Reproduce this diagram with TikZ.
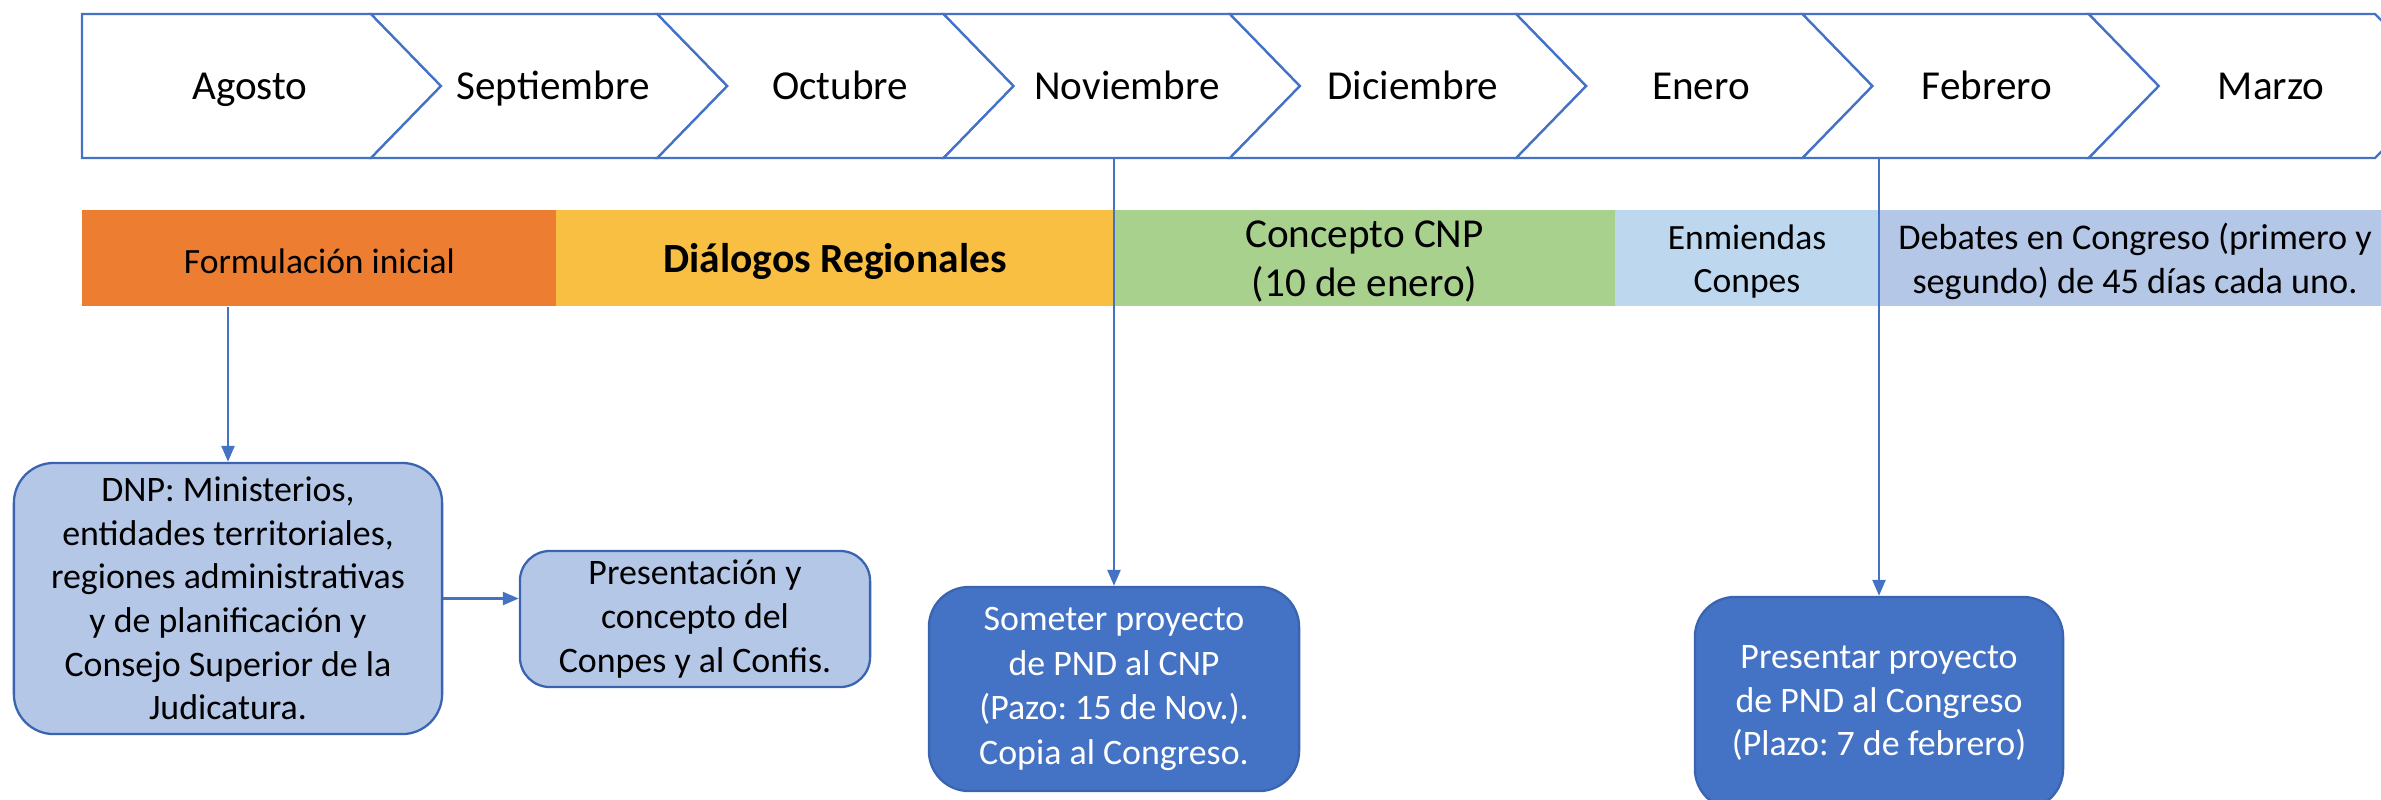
\documentclass[tikz,border=0pt]{standalone}
\usepackage{fontspec}
\setmainfont{Carlito}
\usetikzlibrary{arrows.meta,calc}
\definecolor{cblue}{HTML}{4472C4}
\definecolor{cborder}{HTML}{3A64B0}
\definecolor{corange}{HTML}{ED7D31}
\definecolor{cyellow}{HTML}{F8BF43}
\definecolor{cgreen}{HTML}{A9D18E}
\definecolor{clight}{HTML}{BDD7EE}
\definecolor{cdeb}{HTML}{B4C7E7}
\frenchspacing
\begin{document}
\begin{tikzpicture}[x=0.01cm,y=-0.01cm,
  chev/.style={draw=cblue,line width=0.65pt,fill=white,line join=miter},
  month/.style={font=\fontsize{11.7}{14}\selectfont,anchor=base,inner sep=0pt},
  phase/.style={inner sep=0pt,minimum height=0.96cm},
  ptext/.style={inner sep=0pt,align=center,yshift=-0.035cm},
  lbox/.style={draw=cborder,fill=cdeb,rounded corners=0.4cm,line width=0.65pt,align=center,inner sep=0pt,font=\fontsize{10.2}{12.4}\selectfont},
  dbox/.style={draw=cborder,fill=cblue,text=white,rounded corners=0.4cm,line width=0.65pt,align=center,inner sep=0pt,font=\fontsize{10.2}{12.7}\selectfont},
  arr/.style={draw=cblue,line width=0.7pt,-{Triangle[length=0.16cm,width=0.13cm]}}]
\useasboundingbox (0,0) rectangle (2381,799);
\begin{scope}
\clip (0,0) rectangle (2381,799);
% chevrons
\draw[chev] (82,14) -- (371,14) -- (441,86) -- (371,158) -- (82,158) -- cycle;
\foreach \k in {0,...,6}{
  \pgfmathsetmacro{\n}{371+286.3*\k}
  \draw[chev] (\n,14) -- ({\n+286.3},14) -- ({\n+356.3},86) -- ({\n+286.3},158) -- (\n,158) -- ({\n+70},86) -- cycle;
}
\node[month] (m1) at (250,99) {Agosto};
\node[month] (m2) at (553,99) {Septiembre};
\node[month] (m3) at (840,99) {Octubre};
\node[month] (m4) at (1127,99) {Noviembre};
\node[month] (m5) at (1413,99) {Diciembre};
\node[month] (m6) at (1701,99) {Enero};
\node[month] (m7) at (1987,99) {Febrero};
\node[month] (m8) at (2271,99) {Marzo};
\coordinate (novb) at (1114,158);
\coordinate (febb) at (1879,158);
% phases
\node[phase,fill=corange,minimum width=4.74cm] (p1) at (319.5,258) {};
\node[phase,fill=cyellow,minimum width=5.58cm] (p2) at (835,258) {};
\node[phase,fill=cgreen,minimum width=5.01cm] (p3) at (1364.5,258) {};
\node[phase,fill=clight,minimum width=2.64cm] (p4) at (1747,258) {};
\node[phase,fill=cdeb,minimum width=5.02cm] (p5) at (2130,258) {};
\node[ptext,font=\fontsize{10.1}{12.4}\selectfont] (t1) at (p1.center) {Formulación inicial};
\node[ptext,font=\fontsize{11.8}{14}\selectfont\bfseries] (t2) at (p2.center) {Diálogos Regionales};
\node[ptext,font=\fontsize{11.7}{14.2}\selectfont] (t3) at (p3.center) {Concepto CNP\\(10 de enero)};
\node[ptext,font=\fontsize{10.1}{12.5}\selectfont] (t4) at (p4.center) {Enmiendas\\Conpes};
\node[ptext,font=\fontsize{10.3}{12.7}\selectfont,xshift=0.05cm] (t5) at (p5.center) {Debates en Congreso (primero y\\segundo) de 45 días cada uno.};
% boxes
\node[lbox,minimum width=4.28cm,minimum height=2.71cm] (dnp) at (228,598.5) {DNP: Ministerios,\\entidades territoriales,\\regiones administrativas\\y de planificación y\\Consejo Superior de la\\Judicatura.};
\node[lbox,rounded corners=0.3cm,minimum width=3.5cm,minimum height=1.36cm] (pres) at (695,619) {Presentación y\\concepto del\\Conpes y al Confis.};
\node[dbox,minimum width=3.7cm,minimum height=2.04cm] (som) at (1114,689) {Someter proyecto\\de PND al CNP\\(Pazo: 15 de Nov.).\\Copia al Congreso.};
\node[dbox,minimum width=3.68cm,minimum height=2.12cm,font=\fontsize{10.2}{12.4}\selectfont] (prs) at (1879,703) {Presentar proyecto\\de PND al Congreso\\(Plazo: 7 de febrero)};
% connectors
\draw[arr] (p1.south west -| dnp.north) -- (dnp.north);
\draw[arr] (dnp.east) -- (dnp.east -| pres.west);
\draw[arr] (novb) -- (som.north);
\draw[arr] (febb) -- (prs.north);
\end{scope}
\end{tikzpicture}
\end{document}
